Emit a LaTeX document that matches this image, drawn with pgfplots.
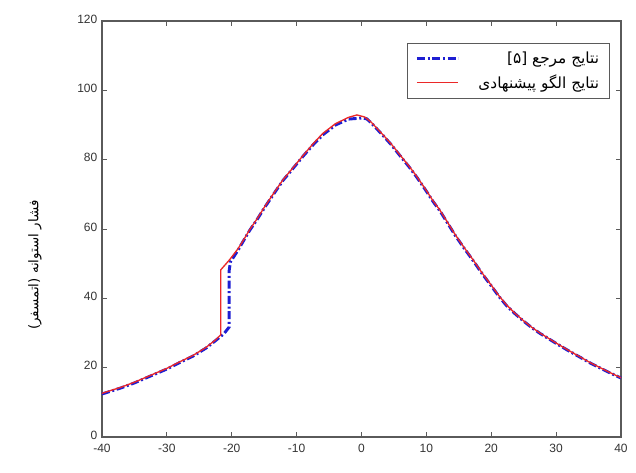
\documentclass[border=0pt]{standalone}
\usepackage{pgfplots}
\pgfplotsset{compat=1.18}
\usepackage{fontspec}
\setmainfont{Liberation Sans}
\newfontfamily\arabicfont[Script=Arabic]{DejaVu Sans}
\TeXXeTstate=1
\definecolor{refblue}{RGB}{30,30,210}
\definecolor{propred}{RGB}{235,40,40}
\definecolor{axgray}{RGB}{90,90,90}
\begin{document}
\begin{tikzpicture}
\useasboundingbox (-76.5pt,-27pt) rectangle (400.5pt,327.75pt);
\begin{axis}[
  scale only axis,
  width=389.25pt, height=312pt,
  xmin=-40, xmax=40, ymin=0, ymax=120,
  clip=false,
  xtick={-40,-30,...,40}, ytick={0,20,...,120},
  tick align=inside,
  major tick length=4pt,
  axis line style={axgray, line width=0.9pt},
  every tick/.style={axgray, line width=0.7pt},
  tick label style={font=\fontsize{9}{10}\selectfont, text=black!80},
  xticklabel style={yshift=-1.5pt},
  yticklabel style={yshift=1.5pt},
  /pgf/number format/assume math mode=true,
  legend style={at={(0.979,0.947)}, anchor=north east, draw=axgray, line width=0.6pt,
    font=\arabicfont\fontsize{11.5}{13}\selectfont, cells={anchor=east},
    inner xsep=6pt, inner ysep=4pt, row sep=3pt,
    /tikz/every odd column/.append style={column sep=12pt}},
  legend cell align=right,
  legend image code/.code={\draw[#1] (0pt,0pt) -- (31pt,0pt);},
]
\addplot[refblue, line width=2.2pt, dash pattern=on 6pt off 2pt on 1.5pt off 2pt] coordinates {
(-40,12.4) (-37,14.2) (-35,15.6) (-32,18) (-30,19.6) (-28,21.5) (-26,23.3) (-24,25.6) (-22.5,27.8) (-21.2,29.8) (-20.4,31.7)
(-20.4,48) (-20.2,50.5) (-19,54) (-18,57.2) (-17.2,59.7) (-16,63) (-15,66) (-13.5,70.2) (-12.1,74) (-10.5,77.6) (-9,81) (-7.5,84.2) (-6,87.1) (-4,90) (-2,91.7) (0,92) (0.8,91.8)
(1.5,90.6) (2.5,88.6) (3.3,87) (4.5,84.5) (6,81) (7.3,78) (8.5,75) (10,70.9) (11,68) (12.1,65.2) (13.3,61.6) (14.5,58) (15.8,54.5) (17.2,50.9) (18.6,47.1) (20,43.6) (21.2,40.5) (22.4,37.8) (23.7,35.5) (25,33.4) (26.2,31.6) (27.5,29.9) (28.8,28.4) (30,27) (31.8,25) (33.7,23) (35.3,21.3) (37,19.7) (38.5,18.3) (40,17)
};
\addlegendentry{\beginR نتایج مرجع [۵]\endR}
\addplot[propred, line width=1pt] coordinates {
(-40,12.6) (-37,14.4) (-35,15.8) (-32,18.2) (-30,19.8) (-28,21.7) (-26,23.5) (-24,25.8) (-22.5,28) (-21.7,29.5)
(-21.7,48.2) (-20.3,51.2) (-19,54.4) (-18,57.4) (-17.2,59.9) (-16,63.2) (-15,66.2) (-13.5,70.4) (-12.1,74.2) (-10.5,77.8) (-9,81.2) (-7.5,84.5) (-6,87.5) (-4,90.4) (-2,92.2) (-0.7,92.9) (0.5,92.3)
(1.5,90.8) (2.5,88.8) (3.3,87.2) (4.5,84.7) (6,81.2) (7.3,78.2) (8.5,75.2) (10,71.1) (11,68.2) (12.1,65.4) (13.3,61.8) (14.5,58.2) (15.8,54.7) (17.2,51.1) (18.6,47.3) (20,43.8) (21.2,40.7) (22.4,38) (23.7,35.6) (25,33.5) (26.2,31.7) (27.5,30) (28.8,28.5) (30,27.1) (31.8,25.1) (33.7,23.1) (35.3,21.4) (37,19.8) (38.5,18.4) (40,17.1)
};
\addlegendentry{\beginR نتایج الگو پیشنهادی\endR}
\node[rotate=90, font=\arabicfont\fontsize{10}{12}\selectfont] at (rel axis cs:-0.129,0.413) {\beginR فشار استوانه (اتمسفر)\endR};
\end{axis}
\end{tikzpicture}
\end{document}
